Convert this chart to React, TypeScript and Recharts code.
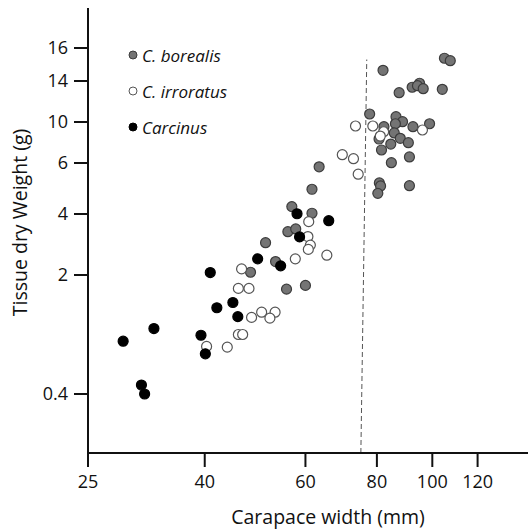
import {
  ScatterChart,
  Scatter,
  XAxis,
  YAxis,
  ReferenceLine,
  Legend,
} from "recharts";

// carapace width (mm) / tissue dry weight (g)
const borealisWidth = [61.6, 56.8, 61.6, 55.9, 57.7, 51.1, 53.2, 48.1, 55.6, 60.0, 63.4, 105.0, 107.5, 82.0, 95.0, 92.2, 94.2, 96.4, 104.1, 87.5, 77.7, 86.4, 88.7, 86.2, 98.9, 82.3, 92.5, 85.8, 80.7, 87.9, 84.6, 90.8, 81.5, 91.2, 84.8, 80.8, 81.2, 80.3, 91.2];
const borealisWeight = [4.97, 4.29, 4.03, 3.42, 3.51, 3.06, 2.44, 2.09, 1.81, 1.86, 5.85, 15.38, 15.23, 14.65, 13.78, 13.39, 13.54, 13.25, 13.19, 12.86, 10.78, 10.52, 10.03, 9.83, 9.83, 9.54, 9.54, 8.93, 8.34, 8.41, 7.85, 7.98, 7.27, 6.59, 6.03, 5.22, 5.1, 4.81, 5.11];

const irroratusWidth = [40.3, 43.8, 45.8, 46.6, 45.8, 47.8, 46.4, 48.3, 50.3, 53.1, 52.0, 57.6, 60.6, 60.8, 61.2, 60.7, 65.4, 69.6, 72.8, 74.2, 73.4, 78.7, 82.2, 81.1, 96.1];
const irroratusWeight = [1.04, 1.03, 1.2, 1.2, 1.82, 1.82, 2.2, 1.43, 1.5, 1.5, 1.42, 2.53, 3.26, 3.75, 2.98, 2.84, 2.65, 6.81, 6.42, 5.56, 9.61, 9.61, 9.05, 8.63, 9.22];

const carcinusWidth = [28.8, 31.0, 31.4, 32.6, 39.4, 40.1, 40.9, 42.0, 44.8, 45.7, 49.5, 54.3, 58.0, 58.6, 65.9];
const carcinusWeight = [1.11, 0.52, 0.4, 1.28, 1.19, 0.94, 2.08, 1.56, 1.63, 1.44, 2.53, 2.3, 4.01, 3.25, 3.78];

const X_TICKS = [25, 40, 60, 80, 100, 120];
const Y_TICKS = [0.4, 2, 4, 6, 10, 14, 16];
// the printed y axis is not evenly spaced: where each label sits (axis units, 0 = x axis)
const Y_TICK_POS = [59, 178, 239, 290, 331, 372, 405];

// dashed size threshold line
const cutoffWidth = [75.0, 76.8];
const cutoffTopWeight = 15.3;

function toU(v: number) {
  let i = 0;
  while (i < Y_TICKS.length - 2 && v > Y_TICKS[i + 1]) i++;
  const t = (v - Y_TICKS[i]) / (Y_TICKS[i + 1] - Y_TICKS[i]);
  return Y_TICK_POS[i] + t * (Y_TICK_POS[i + 1] - Y_TICK_POS[i]);
}

const build = (w: number[], g: number[]) => w.map((x, i) => ({ x, y: toU(g[i]) }));

const borealis = build(borealisWidth, borealisWeight);
const irroratus = build(irroratusWidth, irroratusWeight);
const carcinus = build(carcinusWidth, carcinusWeight);

const SERIES = [
  { name: "C. borealis", fill: "#747474", stroke: "#3c3c3c" },
  { name: "C. irroratus", fill: "#ffffff", stroke: "#555555" },
  { name: "Carcinus", fill: "#000000", stroke: "#000000" },
];

const FONT = '"Open Sans", sans-serif';

const dot = (fill: string, stroke: string) => (props: any) => (
  <circle cx={props.cx} cy={props.cy} r={5} fill={fill} stroke={stroke} strokeWidth={1.2} />
);

function SpeciesLegend() {
  return (
    <div style={{ fontFamily: FONT }}>
      {SERIES.map((s) => (
        <div key={s.name} style={{ height: 36, display: "flex", alignItems: "center" }}>
          <svg width={12} height={12}>
            <circle cx={6} cy={6} r={4} fill={s.fill} stroke={s.stroke} strokeWidth={1} />
          </svg>
          <span style={{ marginLeft: 3, fontSize: 17, fontStyle: "italic", color: "#111" }}>{s.name}</span>
        </div>
      ))}
    </div>
  );
}

export default function App() {
  return (
    <div style={{ position: "absolute", left: 0, top: 0 }}>
      <ScatterChart
        width={528}
        height={530}
        margin={{ top: 8, right: 0, bottom: 0, left: 0 }}
        style={{ fontFamily: FONT }}
      >
        <XAxis
          type="number"
          dataKey="x"
          scale="log"
          domain={[25, 147]}
          ticks={X_TICKS}
          allowDataOverflow
          height={77}
          stroke="#111"
          strokeWidth={2}
          tickSize={14}
          tickMargin={8}
          tick={{ fontSize: 18, fill: "#111" }}
          label={{
            value: "Carapace width (mm)",
            position: "insideBottom",
            offset: 6,
            dx: 20,
            style: { fontSize: 19.5, fill: "#111" },
          }}
        />
        <YAxis
          type="number"
          dataKey="y"
          domain={[0, 445]}
          ticks={Y_TICK_POS}
          allowDataOverflow
          width={88}
          stroke="#111"
          strokeWidth={2}
          tickSize={14}
          tickMargin={6}
          tick={{ fontSize: 18, fill: "#111" }}
          tickFormatter={(u: number) => {
            const i = Y_TICK_POS.indexOf(u);
            return i >= 0 ? String(Y_TICKS[i]) : "";
          }}
          label={{
            value: "Tissue dry Weight (g)",
            angle: -90,
            position: "insideLeft",
            offset: 20,
            dy: -8,
            style: { fontSize: 19.5, fill: "#111", textAnchor: "middle" },
          }}
        />
        <ReferenceLine
          segment={[
            { x: cutoffWidth[0], y: 0 },
            { x: cutoffWidth[1], y: toU(cutoffTopWeight) },
          ]}
          stroke="#555"
          strokeWidth={1}
          strokeDasharray="5 3"
        />
        <Scatter name="C. borealis" data={borealis} shape={dot(SERIES[0].fill, SERIES[0].stroke)} isAnimationActive={false} />
        <Scatter name="C. irroratus" data={irroratus} shape={dot(SERIES[1].fill, SERIES[1].stroke)} isAnimationActive={false} />
        <Scatter name="Carcinus" data={carcinus} shape={dot(SERIES[2].fill, SERIES[2].stroke)} isAnimationActive={false} />
        <Legend
          layout="vertical"
          align="center"
          verticalAlign="middle"
          content={() => <SpeciesLegend />}
          wrapperStyle={{ left: 127, top: 37, width: 140 }}
        />
      </ScatterChart>
    </div>
  );
}
